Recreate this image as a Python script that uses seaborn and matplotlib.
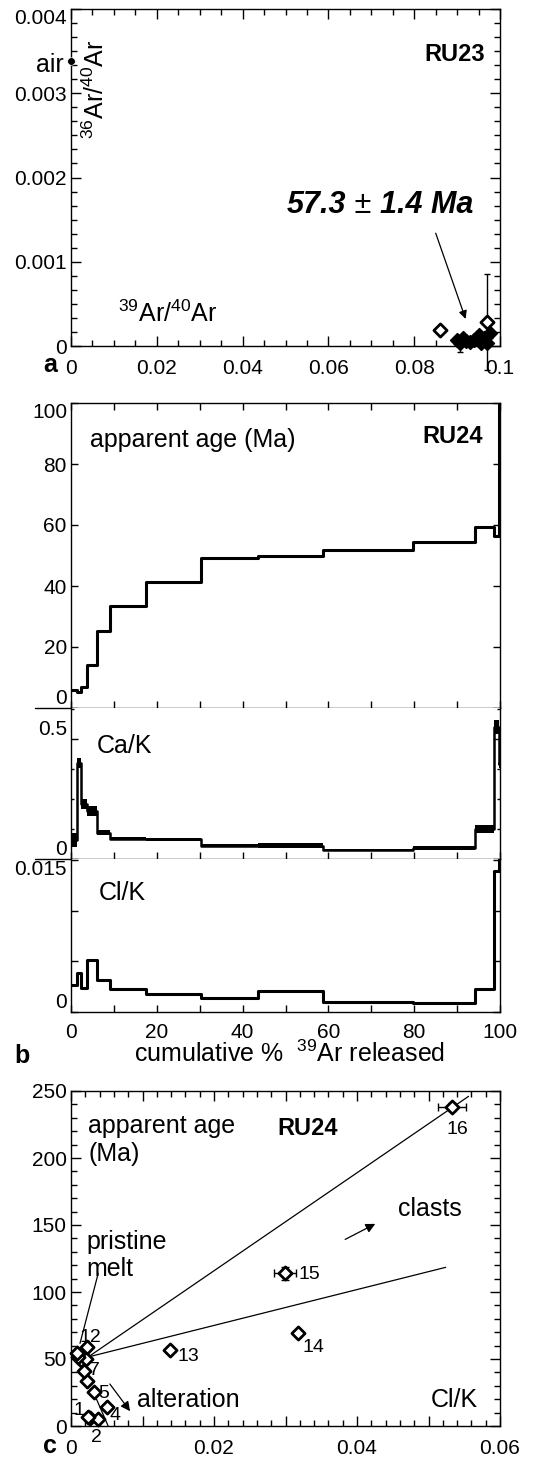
import matplotlib
matplotlib.use("Agg")
import matplotlib.pyplot as plt
import seaborn as sns
import pandas as pd
from matplotlib.ticker import MultipleLocator, FixedLocator, FuncFormatter

# ---------------- data ----------------
# Panel a: RU23 inverse isochron (39Ar/40Ar vs 36Ar/40Ar)
ru23_x = [0.0859, 0.0899, 0.0906, 0.0914, 0.0921, 0.0929, 0.0939, 0.0946, 0.0950, 0.0956, 0.0962, 0.0969, 0.0969, 0.0976]
ru23_y = [0.00019, 0.00007, 0.00003, 0.00009, 0.00006, 0.00005, 0.00007, 0.00010, 0.00013, 0.00004, 0.00009, 0.00029, 0.00003, 0.00015]
ru23_xerr = [0.0004, 0.0003, 0.0003, 0.0003, 0.0003, 0.0003, 0.0003, 0.0003, 0.0004, 0.0003, 0.0003, 0.0005, 0.0003, 0.0006]
ru23_yerr = [0.00004, 0.00004, 0.00010, 0.00004, 0.00004, 0.00004, 0.00004, 0.00005, 0.00005, 0.00004, 0.00004, 0.00057, 0.00004, 0.00005]
ru23_filled = [False, True, True, True, True, True, True, True, True, True, True, False, True, True]
air_ratio = 0.003384
isochron_age = "57.3"
isochron_err = "1.4 Ma"

# Panels b and c: RU24 step heating
step_no = list(range(1, 17))
cum39 = [0, 1.5, 2.4, 3.8, 6.0, 9.1, 17.4, 30.3, 43.7, 58.7, 79.8, 94.2, 98.7, 99.75, 99.85, 99.93, 100]
age_ma = [6.0, 5.2, 6.9, 14.1, 25.2, 33.4, 41.3, 49.3, 49.8, 51.8, 54.3, 59.3, 56.4, 69.2, 114, 238]
age_err = [1.0, 1.0, 1.0, 1.0, 1.0, 1.0, 1.0, 1.0, 1.0, 1.0, 1.0, 1.0, 1.5, 2.0, 5.0, 3.0]
ca_k = [0.08, 0.40, 0.23, 0.20, 0.11, 0.085, 0.082, 0.055, 0.055, 0.037, 0.045, 0.125, 0.55, 0.395, 0.40, 0.40]
ca_k_err = [0.03, 0.02, 0.02, 0.02, 0.01, 0.006, 0.007, 0.006, 0.01, 0.005, 0.008, 0.015, 0.03, 0.015, 0.02, 0.02]
cl_k = [0.0027, 0.0038, 0.0024, 0.0051, 0.0032, 0.0023, 0.0018, 0.0014, 0.0021, 0.00095, 0.00085, 0.0023, 0.0139, 0.0318, 0.0299, 0.0533]
cl_k_err = [0.0002, 0.0002, 0.0002, 0.0002, 0.0002, 0.0002, 0.0002, 0.0002, 0.0002, 0.0002, 0.0002, 0.0002, 0.0003, 0.0004, 0.0015, 0.0020]
labelled_steps = [1, 2, 4, 5, 7, 12, 13, 14, 15, 16]

# annotation lines in panel c (Cl/K, age)
fan_start = (0.0024, 51.5)
fan_ends = [(0.0556, 246.0), (0.0524, 118.4)]
alteration_line = [(0.0032, 24.5), (0.0052, 0.0)]

# ---------------- style ----------------
sns.set_style("ticks")
plt.rcParams["font.family"] = ["Liberation Sans", "DejaVu Sans"]
plt.rcParams["mathtext.fontset"] = "custom"
plt.rcParams["mathtext.rm"] = "Liberation Sans"
plt.rcParams["mathtext.it"] = "Liberation Sans:italic"
plt.rcParams["mathtext.bf"] = "Liberation Sans:bold"
plt.rcParams["text.color"] = "black"
plt.rcParams["axes.labelcolor"] = "black"
plt.rcParams["axes.linewidth"] = 1.0
for a in ("x", "y"):
    plt.rcParams[f"{a}tick.direction"] = "in"
    plt.rcParams[f"{a}tick.color"] = "black"
    plt.rcParams[f"{a}tick.major.width"] = 1.0
    plt.rcParams[f"{a}tick.minor.width"] = 1.0
    plt.rcParams[f"{a}tick.labelcolor"] = "black"

TICK_FS = 15
TXT_FS = 18

W, H = 552, 1460
fig = plt.figure(figsize=(W / 100, H / 100), dpi=100)


def frac(left, top, right, bottom):
    return [left / W, 1 - bottom / H, (right - left) / W, (bottom - top) / H]


ax_a = fig.add_axes(frac(71, 9, 500, 346))
ax_age = fig.add_axes(frac(71, 403, 500, 708))
ax_ca = fig.add_axes(frac(71, 708, 500, 859))
ax_cl = fig.add_axes(frac(71, 859, 500, 1012))
ax_c = fig.add_axes(frac(71, 1091, 500, 1426))

for ax in [ax_a, ax_age, ax_ca, ax_cl, ax_c]:
    for s in ax.spines.values():
        s.set_visible(True)
        s.set_color("black")
        s.set_linewidth(1.0)


def edge_label(ax, y, text, va):
    ax.annotate(text, xy=(0, y), xycoords=ax.get_yaxis_transform(), xytext=(-4, 0),
                textcoords="offset pixels", ha="right", va=va, fontsize=TICK_FS,
                color="black", annotation_clip=False)


def fmt_skip(skip, fmt="%g"):
    return FuncFormatter(lambda v, p: "" if any(abs(v - s) < 1e-9 for s in skip) else fmt % round(v, 5))


def set_ticks(ax, major_len, minor_len, top, right=True, bottom=True):
    ax.tick_params(which="both", direction="in", bottom=bottom, top=top, left=True, right=right,
                   width=1.0, color="black", labelcolor="black")
    ax.tick_params(which="major", length=major_len, labelsize=TICK_FS)
    ax.tick_params(which="minor", length=minor_len)
    ax.tick_params(axis="y", pad=3)


# ---------------- panel a ----------------
df_a = pd.DataFrame(dict(x=ru23_x, y=ru23_y, xerr=ru23_xerr, yerr=ru23_yerr, filled=ru23_filled))
ax_a.errorbar(df_a.x, df_a.y, xerr=df_a.xerr, yerr=df_a.yerr, fmt="none", ecolor="black",
              elinewidth=1.0, capsize=2.5, capthick=1.0, zorder=2, clip_on=False)
sns.scatterplot(data=df_a[df_a.filled], x="x", y="y", marker="D", s=48, color="black",
                edgecolor="black", linewidth=1.2, ax=ax_a, zorder=3, clip_on=False)
sns.scatterplot(data=df_a[~df_a.filled], x="x", y="y", marker="D", s=45, color="white",
                edgecolor="black", linewidth=2.0, ax=ax_a, zorder=3, clip_on=False)
sns.scatterplot(x=[0.0], y=[air_ratio], marker="o", s=30, color="black", ax=ax_a, zorder=4, clip_on=False)
ax_a.set_xlim(0, 0.1)
ax_a.set_ylim(0, 0.004)
ax_a.set_xlabel("")
ax_a.set_ylabel("")
ax_a.xaxis.set_major_locator(MultipleLocator(0.02))
ax_a.xaxis.set_minor_locator(MultipleLocator(0.005))
ax_a.yaxis.set_major_locator(MultipleLocator(0.001))
ax_a.yaxis.set_minor_locator(MultipleLocator(0.001 / 6))
ax_a.xaxis.set_major_formatter(fmt_skip([]))
ax_a.yaxis.set_major_formatter(fmt_skip([0.004]))
set_ticks(ax_a, 7, 4, top=True)
ax_a.tick_params(axis="x", pad=9)
edge_label(ax_a, 0.004, "0.004", "top")

ax_a.annotate("air", xy=(0.0, air_ratio), xytext=(-7, -11), textcoords="offset pixels",
              ha="right", va="baseline", fontsize=TXT_FS, annotation_clip=False)
ax_a.text(0.058, 0.762, r"$^{36}$Ar/$^{40}$Ar", rotation=90, ha="center", va="center",
          fontsize=TXT_FS, transform=ax_a.transAxes)
ax_a.text(0.11, 0.071, r"$^{39}$Ar/$^{40}$Ar", ha="left", va="baseline",
          fontsize=TXT_FS, transform=ax_a.transAxes)
ax_a.text(0.965, 0.846, "RU23", ha="right", va="baseline", fontsize=17, fontweight="bold",
          transform=ax_a.transAxes)
t1 = ax_a.text(0.503, 0.373, isochron_age, ha="left", va="bottom", fontsize=22,
               fontweight="bold", fontstyle="italic", transform=ax_a.transAxes)
t2 = ax_a.annotate(" \u00b1 ", xy=(1, 0), xycoords=t1, ha="left", va="bottom", fontsize=22)
t3 = ax_a.annotate(isochron_err, xy=(1, 0), xycoords=t2, ha="left", va="bottom", fontsize=22,
                   fontweight="bold", fontstyle="italic")
ax_a.annotate("", xy=(0.0922, 0.00029), xytext=(0.0848, 0.00137),
              arrowprops=dict(arrowstyle="-|>", color="black", lw=0.9, mutation_scale=12))

# ---------------- panel b ----------------
age_step = age_ma + [age_ma[-1]]
cl_step = cl_k + [cl_k[-1]]
ca_step = ca_k + [ca_k[-1]]
ca_lo = [v - e for v, e in zip(ca_k, ca_k_err)]
ca_hi = [v + e for v, e in zip(ca_k, ca_k_err)]
ca_lo += [ca_lo[-1]]
ca_hi += [ca_hi[-1]]

sns.lineplot(x=cum39, y=age_step, drawstyle="steps-post", estimator=None, sort=False,
             color="black", lw=2.2, ax=ax_age)
ax_ca.fill_between(cum39, ca_lo, ca_hi, step="post", color="black", lw=0)
sns.lineplot(x=cum39, y=ca_step, drawstyle="steps-post", estimator=None, sort=False,
             color="black", lw=1.8, ax=ax_ca)
sns.lineplot(x=cum39, y=cl_step, drawstyle="steps-post", estimator=None, sort=False,
             color="black", lw=2.2, ax=ax_cl)

for ax in [ax_age, ax_ca, ax_cl]:
    ax.set_xlim(0, 100)
    ax.set_xlabel("")
    ax.set_ylabel("")
    ax.xaxis.set_major_locator(MultipleLocator(10))
    set_ticks(ax, 5, 2.5, top=(ax is ax_age))
ax_age.tick_params(axis="x", labelbottom=False)
ax_ca.tick_params(axis="x", labelbottom=False)
ax_cl.xaxis.set_major_formatter(FuncFormatter(lambda v, p: "%d" % v if int(round(v)) % 20 == 0 else ""))
ax_cl.tick_params(axis="x", pad=8)

ax_age.set_ylim(0, 100)
ax_age.yaxis.set_major_locator(MultipleLocator(20))
ax_age.yaxis.set_major_formatter(fmt_skip([0, 100], "%d"))
edge_label(ax_age, 0, "0", "bottom")
edge_label(ax_age, 100, "100", "top")

ax_ca.set_ylim(0, 0.628)
ax_ca.yaxis.set_major_locator(FixedLocator([0, 0.5]))
ax_ca.yaxis.set_minor_locator(MultipleLocator(0.125))
ax_ca.yaxis.set_major_formatter(fmt_skip([0, 0.5]))
edge_label(ax_ca, 0, "0", "bottom")
edge_label(ax_ca, 0.5, "0.5", "bottom")

ax_cl.set_ylim(0, 0.0151)
ax_cl.yaxis.set_major_locator(FixedLocator([0, 0.005, 0.01, 0.015]))
ax_cl.yaxis.set_major_formatter(FuncFormatter(lambda v, p: ""))
edge_label(ax_cl, 0, "0", "bottom")
edge_label(ax_cl, 0.015, "0.015", "top")

for ax in [ax_age, ax_ca]:
    ax.plot([-0.084, 0], [0, 0], transform=ax.transAxes, color="black", lw=1.0, clip_on=False)
ax_ca.spines["top"].set_visible(False)
ax_cl.spines["top"].set_visible(False)

ax_age.text(0.044, 0.857, "apparent age (Ma)", ha="left", va="baseline", fontsize=TXT_FS,
            transform=ax_age.transAxes)
ax_age.text(0.96, 0.869, "RU24", ha="right", va="baseline", fontsize=17, fontweight="bold",
            transform=ax_age.transAxes)
ax_ca.text(0.06, 0.70, "Ca/K", ha="left", va="baseline", fontsize=TXT_FS, transform=ax_ca.transAxes)
ax_cl.text(0.065, 0.73, "Cl/K", ha="left", va="baseline", fontsize=TXT_FS, transform=ax_cl.transAxes)
ax_cl.text(0.51, -0.327, r"cumulative %  $^{39}$Ar released", ha="center", va="baseline",
           fontsize=TXT_FS, transform=ax_cl.transAxes)

# ---------------- panel c ----------------
df_c = pd.DataFrame(dict(step=step_no, clk=cl_k, age=age_ma, xerr=cl_k_err, yerr=age_err))
for (x0, y0), (x1, y1) in [(fan_start, e) for e in fan_ends]:
    ax_c.plot([x0, x1], [y0, y1], color="black", lw=0.9, zorder=1)
ax_c.plot([p[0] for p in alteration_line], [p[1] for p in alteration_line], color="black", lw=0.9, zorder=1)
ax_c.errorbar(df_c.clk, df_c.age, xerr=df_c.xerr, yerr=df_c.yerr, fmt="none", ecolor="black",
              elinewidth=1.0, capsize=3, capthick=1.0, zorder=2)
sns.scatterplot(data=df_c, x="clk", y="age", marker="D", s=45, color="white", edgecolor="black",
                linewidth=2.0, ax=ax_c, zorder=3, clip_on=False)
ax_c.set_xlabel("")
ax_c.set_ylabel("")
ax_c.set_xlim(0, 0.06)
ax_c.set_ylim(0, 250)
ax_c.xaxis.set_major_locator(MultipleLocator(0.01))
ax_c.xaxis.set_minor_locator(MultipleLocator(0.002))
ax_c.xaxis.set_major_formatter(FuncFormatter(
    lambda v, p: ("0" if abs(v) < 1e-9 else "%.2f" % v) if int(round(v * 100)) % 2 == 0 else ""))
ax_c.yaxis.set_major_locator(MultipleLocator(50))
ax_c.yaxis.set_minor_locator(MultipleLocator(10))
ax_c.yaxis.set_major_formatter(FuncFormatter(lambda v, p: "%d" % v))
set_ticks(ax_c, 7, 4, top=True)
ax_c.tick_params(axis="x", pad=9)

label_offsets = {1: (-11, 7), 2: (-2, -18), 4: (8, -8), 5: (10, -1), 7: (11, 0), 12: (3, 9),
                 13: (18, -6), 14: (15, -14), 15: (25, -1), 16: (5, -22)}
for s in labelled_steps:
    i = step_no.index(s)
    ax_c.annotate(str(s), xy=(cl_k[i], age_ma[i]), xytext=label_offsets[s], textcoords="offset pixels",
                  ha="center", va="center", fontsize=14, annotation_clip=False)

ax_c.text(0.0024, 218.7, "apparent age", ha="left", va="baseline", fontsize=TXT_FS)
ax_c.text(0.0024, 197.9, "(Ma)", ha="left", va="baseline", fontsize=TXT_FS)
ax_c.text(0.0288, 217, "RU24", ha="left", va="baseline", fontsize=17, fontweight="bold")
ax_c.text(0.0457, 157, "clasts", ha="left", va="baseline", fontsize=TXT_FS)
ax_c.text(0.0022, 132.4, "pristine", ha="left", va="baseline", fontsize=TXT_FS)
ax_c.text(0.0022, 112.0, "melt", ha="left", va="baseline", fontsize=TXT_FS)
ax_c.text(0.0092, 14.4, "alteration", ha="left", va="baseline", fontsize=TXT_FS)
ax_c.text(0.0569, 14.4, "Cl/K", ha="right", va="baseline", fontsize=TXT_FS)
ax_c.annotate("", xy=(0.0429, 151.8), xytext=(0.0380, 138.3),
              arrowprops=dict(arrowstyle="-|>", color="black", lw=0.9, mutation_scale=14))
ax_c.annotate("", xy=(0.0085, 9.4), xytext=(0.0052, 33.0),
              arrowprops=dict(arrowstyle="-|>", color="black", lw=0.9, mutation_scale=14))
ax_c.plot([0.0038, 0.00126], [113.8, 61.7], color="black", lw=0.9)

# panel letters
fig.text(50 / W, 1 - 372 / H, "a", ha="center", va="baseline", fontsize=TXT_FS, fontweight="bold")
fig.text(22 / W, 1 - 1063 / H, "b", ha="center", va="baseline", fontsize=TXT_FS, fontweight="bold")
fig.text(50 / W, 1 - 1453 / H, "c", ha="center", va="baseline", fontsize=TXT_FS, fontweight="bold")

fig.savefig("out.png", dpi=100, facecolor="white")
